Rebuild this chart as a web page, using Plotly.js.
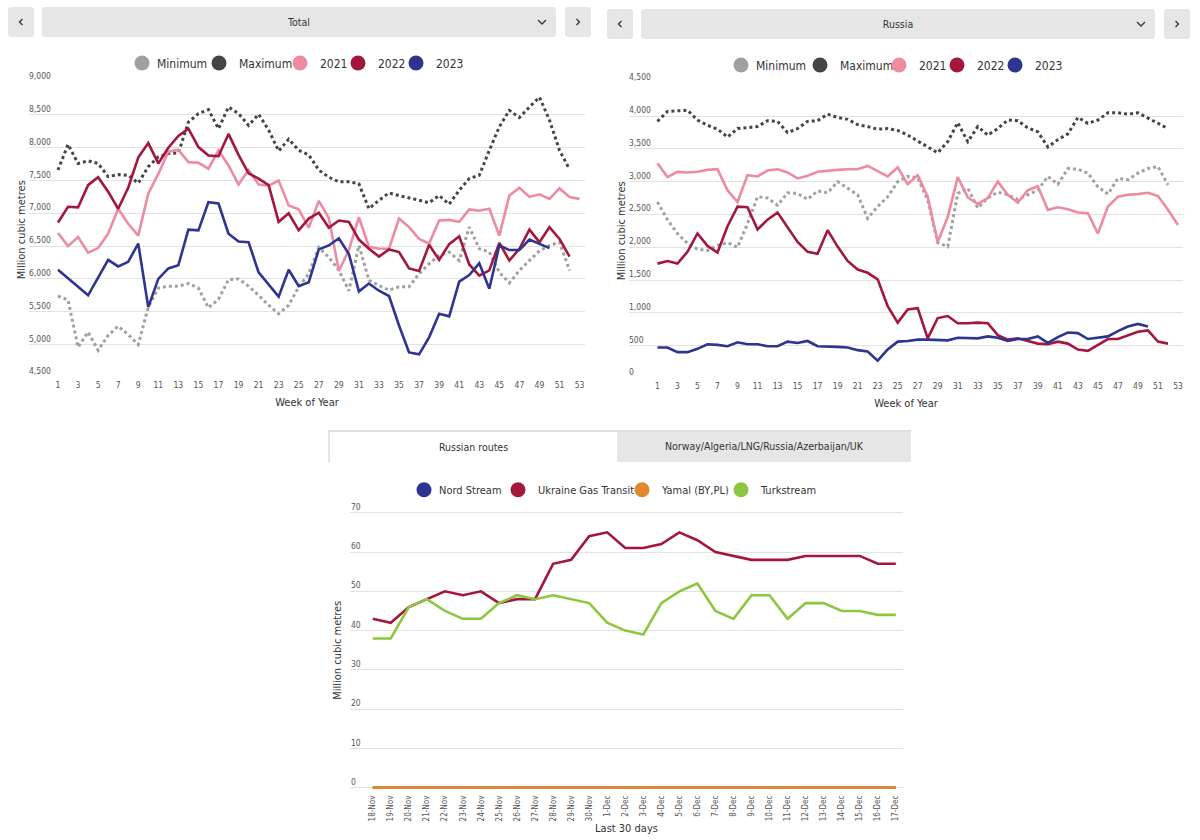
<!DOCTYPE html>
<html><head><meta charset="utf-8">
<script src="https://cdn.plot.ly/plotly-3.0.1.min.js"></script>
<style>
body{margin:0;width:1200px;height:840px;background:#fff;font-family:"DejaVu Sans Condensed",Roboto,sans-serif;position:relative;overflow:hidden}
.box{position:absolute;z-index:2;background:#e6e6e6;border-radius:3px;display:flex;align-items:center;justify-content:center;font-size:10.5px;color:#333}
.chart{position:absolute;z-index:1}
.tab{position:absolute;top:430px;height:32px;display:flex;align-items:center;justify-content:center;font-size:10.5px;color:#333;box-sizing:border-box}
.chart .legendtext{transform:translateX(-5px)}
</style></head>
<body>
<div class="box" style="left:8px;top:7px;width:26px;height:30px"><svg width="10" height="12"><polyline points="6.5,3 3.5,6 6.5,9" fill="none" stroke="#333" stroke-width="1.3"/></svg></div>
<div class="box" style="left:42px;top:7px;width:514px;height:30px">Total<svg style="position:absolute;right:8px;top:10px" width="12" height="10"><polyline points="2,3 6,7 10,3" fill="none" stroke="#333" stroke-width="1.3"/></svg></div>
<div class="box" style="left:565px;top:7px;width:26px;height:30px"><svg width="10" height="12"><polyline points="3.5,3 6.5,6 3.5,9" fill="none" stroke="#333" stroke-width="1.3"/></svg></div>

<div class="box" style="left:607px;top:9px;width:26px;height:30px"><svg width="10" height="12"><polyline points="6.5,3 3.5,6 6.5,9" fill="none" stroke="#333" stroke-width="1.3"/></svg></div>
<div class="box" style="left:641px;top:9px;width:514px;height:30px">Russia<svg style="position:absolute;right:8px;top:10px" width="12" height="10"><polyline points="2,3 6,7 10,3" fill="none" stroke="#333" stroke-width="1.3"/></svg></div>
<div class="box" style="left:1164px;top:9px;width:26px;height:30px"><svg width="10" height="12"><polyline points="3.5,3 6.5,6 3.5,9" fill="none" stroke="#333" stroke-width="1.3"/></svg></div>

<div style="position:absolute;left:328px;top:430px;width:583px;height:32px;background:#e6e6e6;border-top:2px solid #e0e0e0;box-sizing:border-box"></div>
<div class="tab" style="left:329px;width:288px;background:#fff;border-top:2px solid #e0e0e0;border-left:1px solid #e0e0e0">Russian routes</div>
<div class="tab" style="left:617px;width:294px">Norway/Algeria/LNG/Russia/Azerbaijan/UK</div>

<div id="c1" class="chart" style="left:0;top:35px;width:600px;height:385px"></div>
<div id="c2" class="chart" style="left:600px;top:45px;width:600px;height:375px"></div>
<div id="c3" class="chart" style="left:320px;top:470px;width:600px;height:370px"></div>
<script>
// ---------- data ----------
const weeks = [1,2,3,4,5,6,7,8,9,10,11,12,13,14,15,16,17,18,19,20,21,22,23,24,25,26,27,28,29,30,31,32,33,34,35,36,37,38,39,40,41,42,43,44,45,46,47,48,49,50,51,52,53];
const weekTicks = [1,3,5,7,9,11,13,15,17,19,21,23,25,27,29,31,33,35,37,39,41,43,45,47,49,51,53];
const yearNames = ['Minimum','Maximum','2021','2022','2023'];

const totalMin = [5740,5680,4960,5190,4910,5140,5280,5150,5000,5570,5860,5890,5890,5930,5860,5560,5690,5990,6000,5890,5750,5600,5470,5600,5880,6080,6480,6330,6130,5820,6510,5980,5900,5830,5880,5880,6080,6230,6360,6410,6280,6790,6460,6410,6100,5940,6130,6280,6430,6510,6560,6130];
const totalMax = [7660,8050,7760,7800,7760,7560,7590,7580,7460,7710,7860,7910,7920,8390,8520,8580,8290,8620,8520,8340,8510,8270,7950,8130,7960,7890,7660,7550,7480,7480,7450,7070,7200,7310,7270,7240,7200,7160,7270,7140,7350,7530,7580,7960,8320,8570,8460,8620,8770,8420,7960,7670];
const total2021 = [6700,6500,6640,6400,6470,6690,7070,6840,6660,7300,7600,7940,7970,7780,7770,7680,7960,7730,7440,7660,7440,7420,7500,7120,7060,6780,7190,6930,6120,6440,6940,6490,6460,6460,6920,6790,6610,6540,6890,6900,6870,7060,7040,7070,6660,7270,7390,7250,7290,7220,7380,7250,7220];
const total2022 = [6860,7100,7090,7430,7550,7330,7070,7390,7850,8070,7760,8000,8180,8290,8010,7880,7870,8210,7890,7610,7530,7430,6870,7000,6740,6920,7010,6780,6890,6870,6600,6460,6340,6450,6410,6160,6120,6520,6290,6530,6650,6220,6050,6130,6550,6280,6460,6750,6560,6790,6610,6340];
const total2023 = [6140,6010,5880,5750,6020,6290,6190,6260,6540,5570,6000,6160,6210,6750,6740,7170,7150,6690,6570,6560,6100,5920,5730,6140,5890,5950,6450,6510,6620,6380,5810,5930,5820,5740,5290,4880,4850,5110,5470,5430,5960,6060,6240,5850,6510,6440,6440,6600,6540,6470];

const russiaMin = [2690,2420,2210,2060,1970,1950,2030,2070,2000,2360,2770,2750,2640,2830,2820,2730,2860,2830,3000,2900,2800,2440,2620,2770,3000,3080,3060,2720,2070,2010,2820,2900,2600,2750,2840,2800,2730,2800,2870,3080,2960,3200,3190,3130,2920,2810,3050,3030,3130,3200,3230,2950];
const russiaMax = [3920,4070,4080,4090,3940,3860,3800,3680,3810,3820,3840,3930,3920,3750,3810,3920,3930,4030,3980,3950,3870,3840,3800,3810,3780,3710,3620,3540,3440,3610,3900,3610,3840,3710,3810,3940,3930,3820,3760,3530,3640,3730,3980,3890,3940,4050,4050,4030,4050,3970,3890,3810];
const russia2021 = [3280,3070,3150,3140,3150,3180,3190,2870,2690,3100,3080,3170,3190,3140,3050,3090,3150,3170,3180,3190,3190,3240,3160,3080,3220,2960,3100,2770,2080,2460,3070,2760,2660,2750,3000,2800,2680,2870,2930,2570,2610,2580,2530,2520,2210,2620,2770,2800,2810,2830,2780,2570,2340];
const russia2022 = [1750,1790,1750,1930,2210,2020,1920,2320,2620,2610,2270,2420,2530,2310,2080,1930,1900,2260,2010,1790,1660,1610,1510,1100,850,1050,1070,610,920,950,840,840,850,840,660,590,610,570,530,520,560,530,440,420,510,600,600,660,710,730,560,530];
const russia2023 = [470,470,400,400,450,520,510,490,550,520,520,490,490,560,540,570,490,490,480,470,430,410,270,440,560,570,590,590,580,580,620,610,610,640,620,570,600,600,640,540,630,700,690,600,620,640,720,790,830,790];

const days = ['18-Nov','19-Nov','20-Nov','21-Nov','22-Nov','23-Nov','24-Nov','25-Nov','26-Nov','27-Nov','28-Nov','29-Nov','30-Nov','1-Dec','2-Dec','3-Dec','4-Dec','5-Dec','6-Dec','7-Dec','8-Dec','9-Dec','10-Dec','11-Dec','12-Dec','13-Dec','14-Dec','15-Dec','16-Dec','17-Dec'];
const routeNames = ['Nord Stream','Ukraine Gas Transit','Yamal (BY,PL)','Turkstream'];
const nordStream = [0,0,0,0,0,0,0,0,0,0,0,0,0,0,0,0,0,0,0,0,0,0,0,0,0,0,0,0,0,0];
const ukraineTransit = [43,42,46,48,50,49,50,47,48,48,57,58,64,65,61,61,62,65,63,60,59,58,58,58,59,59,59,59,57,57];
const yamal = [0,0,0,0,0,0,0,0,0,0,0,0,0,0,0,0,0,0,0,0,0,0,0,0,0,0,0,0,0,0];
const turkstream = [38,38,46,48,45,43,43,47,49,48,49,48,47,42,40,39,47,50,52,45,43,49,49,43,47,47,45,45,44,44];

// ---------- styles ----------
const FONT = '"DejaVu Sans Condensed", Roboto, sans-serif';
const yearColors = ['#a0a0a0','#454545','#ee8ba1','#a3173c','#2d3590'];
const routeColors = ['#2d3590','#a3173c','#e0882c','#8dc63f'];
const cfg = {displayModeBar:false, staticPlot:true};
const CLEAR = 'rgba(0,0,0,0)';

function lineTrace(x, y, color, dotted, width){
  return {x:x.slice(0,y.length), y:y, type:'scatter', mode:'lines', showlegend:false,
          hoverinfo:'skip', line:{color:color, width:width || (dotted?3:2.6), dash:dotted?'dot':'solid'}};
}
function legendTrace(name, color, i){
  return {x:[null], y:[null], type:'scatter', mode:'markers', name:name, showlegend:true,
          legend: i===0 ? 'legend' : 'legend'+(i+1),
          marker:{color:color, size:15, symbol:'circle'}};
}
// one single-item legend per entry, symbol centred on the reference circle position (page px)
function legendSet(layout, circles, divLeft, ml, paperW, yPaper, fs){
  circles.forEach(function(px, i){
    const key = i===0 ? 'legend' : 'legend'+(i+1);
    layout[key] = {orientation:'h', x:(px - 20 - divLeft - ml)/paperW, xanchor:'left',
                   y:yPaper, yanchor:'middle', bgcolor:CLEAR,
                   font:{size:fs, color:'#333', family:FONT}, itemclick:false, itemdoubleclick:false};
  });
}
function yearLayout(h, m, xr, yr, dom, dtickY, ytStandoff){
  return {
    width:600, height:h, margin:m, paper_bgcolor:CLEAR, plot_bgcolor:CLEAR,
    font:{family:FONT, color:'#444'}, showlegend:true,
    xaxis:{range:xr, tickmode:'array', tickvals:weekTicks, showgrid:false, zeroline:false, showline:false,
           ticks:'', tickfont:{size:8.5, color:'#555'}, fixedrange:true,
           title:{text:'Week of Year', font:{size:11, color:'#333'}, standoff:9}},
    yaxis:{domain:dom, range:yr, dtick:dtickY, tick0:0, tickformat:',', ticklabelposition:'inside top',
           ticklabeloverflow:'allow', ticklabelstandoff:-3, showgrid:true, gridcolor:'#e2e2e2', gridwidth:1,
           zeroline:false, showline:false, ticks:'', tickfont:{size:8.5, color:'#555'}, fixedrange:true,
           title:{text:'Million cubic metres', font:{size:11, color:'#333'}, standoff:ytStandoff}}
  };
}

// chart 1 : Total
const t1 = [
  lineTrace(weeks, totalMin, yearColors[0], true), lineTrace(weeks, totalMax, yearColors[1], true),
  lineTrace(weeks, total2021, yearColors[2], false), lineTrace(weeks, total2022, yearColors[3], false),
  lineTrace(weeks, total2023, yearColors[4], false)
].concat(yearNames.map(function(n,i){return legendTrace(n, yearColors[i], i);}));
const L1 = yearLayout(385, {l:29, r:15, t:5, b:42.3}, [-1.89, 53.54], [4490, 9010], [0, 0.8774], 500, 1);
legendSet(L1, [142, 219, 300, 358, 416], 0, 29, 556, 0.9319, 12);
Plotly.newPlot('c1', t1, L1, cfg);

// chart 2 : Russia
const t2 = [
  lineTrace(weeks, russiaMin, yearColors[0], true), lineTrace(weeks, russiaMax, yearColors[1], true),
  lineTrace(weeks, russia2021, yearColors[2], false), lineTrace(weeks, russia2022, yearColors[3], false),
  lineTrace(weeks, russia2023, yearColors[4], false)
].concat(yearNames.map(function(n,i){return legendTrace(n, yearColors[i], i);}));
const L2 = yearLayout(375, {l:29, r:17, t:5, b:41}, [-1.84, 53.5], [-10, 4510], [0, 0.9007], 500, 1);
legendSet(L2, [741, 820, 899, 957, 1015], 600, 29, 554, 0.9544, 12);
Plotly.newPlot('c2', t2, L2, cfg);

// chart 3 : Russian routes
const L3 = {
  width:600, height:370, margin:{l:30, r:17, t:5, b:51.3}, paper_bgcolor:CLEAR, plot_bgcolor:CLEAR,
  font:{family:FONT, color:'#444'}, showlegend:true,
  xaxis:{type:'category', range:[-1.26, 29.4], showgrid:false, zeroline:false, showline:false, ticks:'',
         tickangle:-90, ticklabelstandoff:4, tickfont:{size:8, color:'#555'}, fixedrange:true,
         title:{text:'Last 30 days', font:{size:11, color:'#333'}, standoff:3}},
  yaxis:{domain:[0, 0.9009], range:[-0.3, 70.3], dtick:10, tick0:0, ticklabelposition:'inside top',
         ticklabeloverflow:'allow', ticklabelstandoff:-2, showgrid:true, gridcolor:'#e2e2e2', gridwidth:1,
         zeroline:false, showline:false, ticks:'', tickfont:{size:8.5, color:'#555'}, fixedrange:true,
         title:{text:'Million cubic metres', font:{size:11, color:'#333'}, standoff:7}}
};
legendSet(L3, [424, 518, 642, 741], 320, 30, 553, 0.9714, 11);
const t3 = [
  lineTrace(days, nordStream, routeColors[0], false),
  lineTrace(days, ukraineTransit, routeColors[1], false),
  lineTrace(days, yamal, routeColors[2], false, 3.2),
  lineTrace(days, turkstream, routeColors[3], false)
].concat(routeNames.map(function(n,i){return legendTrace(n, routeColors[i], i);}));
Plotly.newPlot('c3', t3, L3, cfg);
</script>
</body></html>
